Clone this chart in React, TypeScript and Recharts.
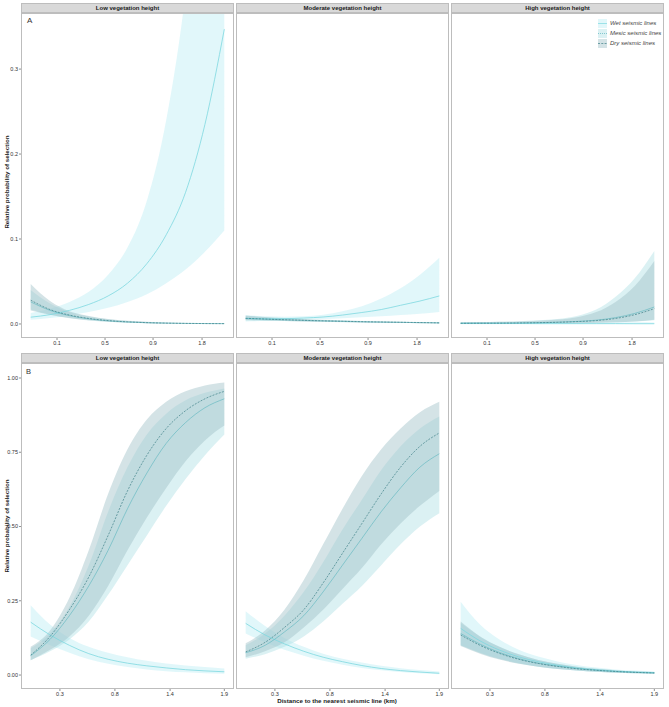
import React from "react";
import { ComposedChart, Area, Line, XAxis, YAxis } from "recharts";

// relative position along the distance axis (plotted range 0..1)
const positions = [0, 0.1, 0.2, 0.3, 0.4, 0.5, 0.6, 0.7, 0.8, 0.9, 1];

const topTickPos = [0.136, 0.384, 0.632, 0.885];
const topTickLabels = ["0.1", "0.5", "0.9", "1.8"];
const bottomTickPos = [0.151, 0.435, 0.72, 1.0];
const bottomTickLabels = ["0.3", "0.8", "1.4", "1.9"];

const topYTicks = [0, 0.1, 0.2, 0.3];
const bottomYTicks = [0, 0.25, 0.5, 0.75, 1];

const vegetation = [
  "Low vegetation height",
  "Moderate vegetation height",
  "High vegetation height",
];
const seismicLines = ["Wet seismic lines", "Mesic seismic lines", "Dry seismic lines"];

// ---- Panel A, low vegetation
const aLowWet = [0.008, 0.011, 0.016, 0.023, 0.033, 0.048, 0.071, 0.105, 0.155, 0.235, 0.347];
const aLowWetLo = [0.005, 0.007, 0.01, 0.014, 0.019, 0.026, 0.035, 0.048, 0.064, 0.085, 0.11];
const aLowWetHi = [0.013, 0.018, 0.026, 0.038, 0.058, 0.09, 0.145, 0.24, 0.39, 0.62, 0.95];
const aLowMesic = [0.026, 0.016, 0.0098, 0.006, 0.0037, 0.0023, 0.0015, 0.001, 0.0007, 0.0005, 0.0004];
const aLowMesicLo = [0.017, 0.011, 0.0068, 0.0042, 0.0025, 0.0015, 0.001, 0.0006, 0.0004, 0.0003, 0.0002];
const aLowMesicHi = [0.04, 0.024, 0.014, 0.0088, 0.0055, 0.0035, 0.0023, 0.0015, 0.001, 0.0008, 0.0006];
const aLowDry = [0.028, 0.017, 0.0105, 0.0065, 0.004, 0.0025, 0.0016, 0.001, 0.0007, 0.0005, 0.0004];
const aLowDryLo = [0.016, 0.011, 0.007, 0.0043, 0.0026, 0.0016, 0.001, 0.0006, 0.0004, 0.0003, 0.0002];
const aLowDryHi = [0.047, 0.027, 0.015, 0.0095, 0.006, 0.0038, 0.0025, 0.0016, 0.0011, 0.0008, 0.0006];

// ---- Panel A, moderate vegetation
const aModWet = [0.0065, 0.0062, 0.0063, 0.007, 0.0082, 0.0105, 0.0135, 0.017, 0.022, 0.027, 0.033];
const aModWetLo = [0.003, 0.0035, 0.004, 0.005, 0.0058, 0.0068, 0.0078, 0.009, 0.0105, 0.012, 0.014];
const aModWetHi = [0.0105, 0.009, 0.0085, 0.009, 0.011, 0.015, 0.021, 0.03, 0.042, 0.058, 0.078];
const aModMesic = [0.0064, 0.0056, 0.0049, 0.0042, 0.0036, 0.0031, 0.0026, 0.0022, 0.0019, 0.0016, 0.0013];
const aModMesicLo = [0.0044, 0.0039, 0.0034, 0.0029, 0.0025, 0.0021, 0.0017, 0.0014, 0.0011, 0.0009, 0.0007];
const aModMesicHi = [0.0095, 0.008, 0.0067, 0.0057, 0.0048, 0.0041, 0.0035, 0.003, 0.0026, 0.0023, 0.002];
const aModDry = [0.0067, 0.0058, 0.005, 0.0043, 0.0037, 0.0032, 0.0027, 0.0023, 0.002, 0.0017, 0.0013];
const aModDryLo = [0.0045, 0.004, 0.0035, 0.003, 0.0026, 0.0022, 0.0018, 0.0015, 0.0012, 0.001, 0.0007];
const aModDryHi = [0.01, 0.0083, 0.0069, 0.0058, 0.0049, 0.0042, 0.0036, 0.0031, 0.0027, 0.0024, 0.0021];

// ---- Panel A, high vegetation
const aHighWet = [0.0005, 0.0005, 0.0005, 0.0005, 0.0004, 0.0004, 0.0004, 0.0004, 0.0004, 0.0003, 0.0003];
const aHighWetLo = [0.0001, 0.0001, 0.0001, 0.0001, 0.0001, 0.0001, 0.0001, 0.0001, 0.0001, 0.0001, 0.0001];
const aHighWetHi = [0.0022, 0.0022, 0.0022, 0.0021, 0.0021, 0.002, 0.002, 0.002, 0.0019, 0.0019, 0.0018];
const aHighMesic = [0.0008, 0.0009, 0.001, 0.0012, 0.0016, 0.0021, 0.003, 0.0045, 0.0075, 0.0125, 0.02];
const aHighMesicLo = [0.0003, 0.0003, 0.0004, 0.0005, 0.0006, 0.0008, 0.001, 0.0014, 0.002, 0.003, 0.0045];
const aHighMesicHi = [0.002, 0.0023, 0.0027, 0.0033, 0.0043, 0.006, 0.0095, 0.017, 0.032, 0.054, 0.086];
const aHighDry = [0.0008, 0.0009, 0.001, 0.0012, 0.0015, 0.002, 0.0028, 0.004, 0.0065, 0.011, 0.018];
const aHighDryLo = [0.0003, 0.0003, 0.0004, 0.0005, 0.0006, 0.0008, 0.001, 0.0014, 0.002, 0.003, 0.005];
const aHighDryHi = [0.002, 0.0022, 0.0025, 0.003, 0.0038, 0.0052, 0.008, 0.014, 0.026, 0.045, 0.074];

// ---- Panel B, low vegetation
const bLowWet = [0.178, 0.135, 0.1, 0.072, 0.053, 0.04, 0.031, 0.024, 0.018, 0.014, 0.011];
const bLowWetLo = [0.13, 0.1, 0.075, 0.053, 0.038, 0.027, 0.019, 0.013, 0.009, 0.006, 0.004];
const bLowWetHi = [0.235, 0.17, 0.125, 0.095, 0.075, 0.06, 0.048, 0.039, 0.032, 0.027, 0.022];
const bLowMesic = [0.065, 0.12, 0.2, 0.3, 0.42, 0.56, 0.68, 0.78, 0.85, 0.9, 0.93];
const bLowMesicLo = [0.05, 0.08, 0.12, 0.18, 0.27, 0.37, 0.47, 0.57, 0.66, 0.74, 0.81];
const bLowMesicHi = [0.09, 0.14, 0.23, 0.37, 0.55, 0.7, 0.81, 0.88, 0.925, 0.95, 0.965];
const bLowDry = [0.067, 0.13, 0.22, 0.33, 0.47, 0.62, 0.74, 0.83, 0.89, 0.93, 0.955];
const bLowDryLo = [0.05, 0.085, 0.13, 0.2, 0.3, 0.42, 0.53, 0.63, 0.72, 0.79, 0.84];
const bLowDryHi = [0.095, 0.15, 0.26, 0.42, 0.61, 0.76, 0.86, 0.92, 0.955, 0.975, 0.985];

// ---- Panel B, moderate vegetation
const bModWet = [0.174, 0.135, 0.105, 0.08, 0.06, 0.045, 0.032, 0.022, 0.015, 0.01, 0.006];
const bModWetLo = [0.14, 0.11, 0.085, 0.065, 0.048, 0.035, 0.024, 0.016, 0.01, 0.006, 0.003];
const bModWetHi = [0.215, 0.165, 0.125, 0.095, 0.072, 0.055, 0.042, 0.031, 0.023, 0.017, 0.012];
const bModMesic = [0.075, 0.1, 0.145, 0.2, 0.28, 0.37, 0.46, 0.55, 0.63, 0.7, 0.745];
const bModMesicLo = [0.055, 0.07, 0.095, 0.13, 0.18, 0.24, 0.3, 0.37, 0.44, 0.5, 0.545];
const bModMesicHi = [0.1, 0.14, 0.2, 0.28, 0.38, 0.49, 0.59, 0.69, 0.77, 0.83, 0.87];
const bModDry = [0.078, 0.11, 0.16, 0.22, 0.31, 0.41, 0.51, 0.61, 0.7, 0.77, 0.815];
const bModDryLo = [0.06, 0.08, 0.11, 0.16, 0.22, 0.29, 0.36, 0.44, 0.51, 0.57, 0.62];
const bModDryHi = [0.107, 0.15, 0.22, 0.32, 0.44, 0.56, 0.67, 0.76, 0.83, 0.885, 0.92];

// ---- Panel B, high vegetation
const bHighWet = [0.157, 0.115, 0.084, 0.061, 0.045, 0.033, 0.024, 0.018, 0.013, 0.01, 0.008];
const bHighWetLo = [0.1, 0.075, 0.055, 0.04, 0.029, 0.021, 0.015, 0.011, 0.008, 0.006, 0.004];
const bHighWetHi = [0.247, 0.17, 0.12, 0.085, 0.062, 0.046, 0.034, 0.025, 0.019, 0.015, 0.012];
const bHighMesic = [0.14, 0.104, 0.076, 0.055, 0.04, 0.03, 0.022, 0.016, 0.012, 0.009, 0.007];
const bHighMesicLo = [0.1, 0.074, 0.054, 0.039, 0.028, 0.02, 0.015, 0.011, 0.008, 0.006, 0.004];
const bHighMesicHi = [0.175, 0.13, 0.095, 0.07, 0.051, 0.038, 0.028, 0.021, 0.016, 0.012, 0.01];
const bHighDry = [0.135, 0.1, 0.073, 0.053, 0.039, 0.029, 0.021, 0.016, 0.012, 0.009, 0.007];
const bHighDryLo = [0.098, 0.072, 0.052, 0.038, 0.028, 0.02, 0.015, 0.011, 0.008, 0.006, 0.004];
const bHighDryHi = [0.18, 0.13, 0.095, 0.07, 0.051, 0.038, 0.028, 0.021, 0.016, 0.012, 0.01];

const FONT = "'Liberation Sans', Arial, sans-serif";
const BORDER = "#bdbdbd";

const WET_FILL = "#b3ecf2";
const MESIC_FILL = "#a5dbe2";
const DRY_FILL = "#9fc1c7";
const WET_LINE = "#7dd8df";
const MESIC_LINE = "#5bb5bd";
const DRY_LINE = "#3d7f86";

function buildRows(
  wet: number[], wetLo: number[], wetHi: number[],
  mesic: number[], mesicLo: number[], mesicHi: number[],
  dry: number[], dryLo: number[], dryHi: number[]
) {
  return positions.map((x, i) => ({
    x,
    wet: wet[i],
    wetBand: [wetLo[i], wetHi[i]],
    mesic: mesic[i],
    mesicBand: [mesicLo[i], mesicHi[i]],
    dry: dry[i],
    dryBand: [dryLo[i], dryHi[i]],
  }));
}

const rowsA = [
  buildRows(aLowWet, aLowWetLo, aLowWetHi, aLowMesic, aLowMesicLo, aLowMesicHi, aLowDry, aLowDryLo, aLowDryHi),
  buildRows(aModWet, aModWetLo, aModWetHi, aModMesic, aModMesicLo, aModMesicHi, aModDry, aModDryLo, aModDryHi),
  buildRows(aHighWet, aHighWetLo, aHighWetHi, aHighMesic, aHighMesicLo, aHighMesicHi, aHighDry, aHighDryLo, aHighDryHi),
];
const rowsB = [
  buildRows(bLowWet, bLowWetLo, bLowWetHi, bLowMesic, bLowMesicLo, bLowMesicHi, bLowDry, bLowDryLo, bLowDryHi),
  buildRows(bModWet, bModWetLo, bModWetHi, bModMesic, bModMesicLo, bModMesicHi, bModDry, bModDryLo, bModDryHi),
  buildRows(bHighWet, bHighWetLo, bHighWetHi, bHighMesic, bHighMesicLo, bHighMesicHi, bHighDry, bHighDryLo, bHighDryHi),
];

const COL_LEFT = [21, 236, 451];
const PANEL_W = 213;
const Y_AXIS_W = 21;
const X_AXIS_H = 10;

interface PanelProps {
  left: number;
  top: number;
  height: number;
  rows: any[];
  yDomain: [number, number];
  yTicks: number[];
  yDigits: number;
  xTicks: number[];
  xLabels: string[];
  showY: boolean;
}

function Panel({ left, top, height, rows, yDomain, yTicks, yDigits, xTicks, xLabels, showY }: PanelProps) {
  const yW = showY ? Y_AXIS_W : 0;
  return (
    <div style={{ position: "absolute", left: left - yW, top }}>
      <ComposedChart
        width={PANEL_W + yW}
        height={height + X_AXIS_H}
        data={rows}
        margin={{ top: 0, right: 0, bottom: 0, left: 0 }}
      >
        <XAxis
          dataKey="x"
          type="number"
          domain={[-0.05, 1.05]}
          allowDataOverflow
          ticks={xTicks}
          interval={0}
          tickFormatter={(v) => xLabels[xTicks.indexOf(v)]}
          height={X_AXIS_H}
          axisLine={false}
          tickLine={{ stroke: "#444", strokeWidth: 0.6 }}
          tickSize={2}
          tickMargin={1}
          tick={{ fontSize: 5.5, fill: "#333", fontFamily: FONT }}
        />
        <YAxis
          type="number"
          domain={yDomain}
          allowDataOverflow
          ticks={yTicks}
          interval={0}
          hide={!showY}
          width={yW}
          tickFormatter={(v) => Number(v).toFixed(yDigits)}
          axisLine={false}
          tickLine={{ stroke: "#444", strokeWidth: 0.6 }}
          tickSize={2}
          tickMargin={1}
          tick={{ fontSize: 5.5, fill: "#333", fontFamily: FONT }}
        />
        <Area dataKey="wetBand" type="monotone" stroke="none" fill={WET_FILL} fillOpacity={0.4} isAnimationActive={false} />
        <Area dataKey="mesicBand" type="monotone" stroke="none" fill={MESIC_FILL} fillOpacity={0.4} isAnimationActive={false} />
        <Area dataKey="dryBand" type="monotone" stroke="none" fill={DRY_FILL} fillOpacity={0.45} isAnimationActive={false} />
        <Line dataKey="wet" type="monotone" stroke={WET_LINE} strokeWidth={0.8} dot={false} isAnimationActive={false} />
        <Line dataKey="mesic" type="monotone" stroke={MESIC_LINE} strokeWidth={0.6} dot={false} isAnimationActive={false} />
        <Line dataKey="dry" type="monotone" stroke={DRY_LINE} strokeWidth={0.7} strokeDasharray="2 1.3" dot={false} isAnimationActive={false} />
      </ComposedChart>
    </div>
  );
}

function Frame({ left, top, height }: { left: number; top: number; height: number }) {
  return (
    <div
      style={{
        position: "absolute",
        left,
        top,
        width: PANEL_W,
        height,
        border: `1px solid ${BORDER}`,
        boxSizing: "border-box",
        pointerEvents: "none",
      }}
    />
  );
}

function Strip({ left, top, label }: { left: number; top: number; label: string }) {
  return (
    <div
      style={{
        position: "absolute",
        left,
        top,
        width: PANEL_W,
        height: 10,
        background: "#d9d9d9",
        border: `1px solid ${BORDER}`,
        boxSizing: "border-box",
        fontFamily: FONT,
        fontWeight: "bold",
        fontSize: 6,
        lineHeight: "8px",
        textAlign: "center",
        color: "#1a1a1a",
      }}
    >
      {label}
    </div>
  );
}

function LegendBox() {
  const keys = [
    { fill: WET_FILL, op: 0.4, stroke: WET_LINE, dash: undefined },
    { fill: MESIC_FILL, op: 0.4, stroke: MESIC_LINE, dash: "1 1" },
    { fill: DRY_FILL, op: 0.45, stroke: DRY_LINE, dash: "2 1.3" },
  ];
  return (
    <div style={{ position: "absolute", left: 598, top: 18, fontFamily: FONT }}>
      {seismicLines.map((name, i) => (
        <div key={name} style={{ display: "flex", alignItems: "center", height: 10 }}>
          <svg width={9} height={9}>
            <rect x={0} y={0} width={9} height={9} fill={keys[i].fill} fillOpacity={keys[i].op} />
            <line x1={0} y1={4.5} x2={9} y2={4.5} stroke={keys[i].stroke} strokeWidth={0.7} strokeDasharray={keys[i].dash} />
          </svg>
          <span style={{ marginLeft: 3, fontSize: 6, fontStyle: "italic", color: "#444" }}>{name}</span>
        </div>
      ))}
    </div>
  );
}

export default function App() {
  const topA = 13;
  const hA = 325;
  const topB = 363;
  const hB = 326;
  return (
    <div style={{ position: "absolute", left: 0, top: 0, width: 669, height: 707, background: "#fff", fontFamily: FONT }}>
      {vegetation.map((v, i) => (
        <React.Fragment key={"a" + v}>
          <Strip left={COL_LEFT[i]} top={3} label={v} />
          <Panel
            left={COL_LEFT[i]}
            top={topA}
            height={hA}
            rows={rowsA[i]}
            yDomain={[-0.0165, 0.366]}
            yTicks={topYTicks}
            yDigits={1}
            xTicks={topTickPos}
            xLabels={topTickLabels}
            showY={i === 0}
          />
          <Frame left={COL_LEFT[i]} top={topA} height={hA} />
        </React.Fragment>
      ))}
      {vegetation.map((v, i) => (
        <React.Fragment key={"b" + v}>
          <Strip left={COL_LEFT[i]} top={353} label={v} />
          <Panel
            left={COL_LEFT[i]}
            top={topB}
            height={hB}
            rows={rowsB[i]}
            yDomain={[-0.047, 1.0505]}
            yTicks={bottomYTicks}
            yDigits={2}
            xTicks={bottomTickPos}
            xLabels={bottomTickLabels}
            showY={i === 0}
          />
          <Frame left={COL_LEFT[i]} top={topB} height={hB} />
        </React.Fragment>
      ))}
      <LegendBox />
      <div style={{ position: "absolute", left: 27, top: 16, fontSize: 8, color: "#333" }}>A</div>
      <div style={{ position: "absolute", left: 26, top: 367, fontSize: 7.5, color: "#333" }}>B</div>
      {[182, 526].map((cy) => (
        <div
          key={cy}
          style={{
            position: "absolute",
            left: 6,
            top: cy,
            transform: "translate(-50%, -50%) rotate(-90deg)",
            whiteSpace: "nowrap",
            fontSize: 6.2,
            fontWeight: "bold",
            color: "#1a1a1a",
          }}
        >
          Relative probability of selection
        </div>
      ))}
      <div
        style={{
          position: "absolute",
          left: 337,
          top: 700,
          transform: "translate(-50%, -50%)",
          whiteSpace: "nowrap",
          fontSize: 6.2,
          fontWeight: "bold",
          color: "#1a1a1a",
        }}
      >
        Distance to the nearest seismic line (km)
      </div>
    </div>
  );
}
